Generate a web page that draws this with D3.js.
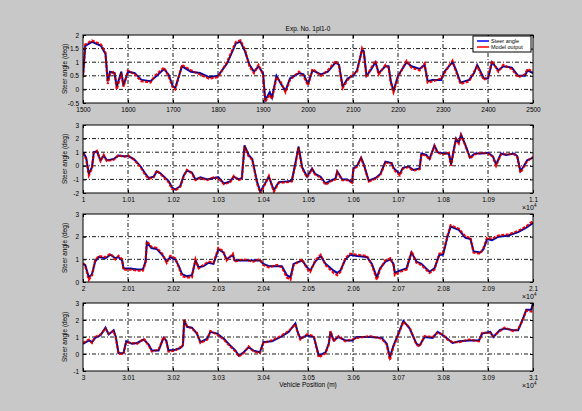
<!DOCTYPE html>
<html>
<head>
<meta charset="utf-8">
<script src="https://cdn.jsdelivr.net/npm/d3@7"></script>
<style>
  body { margin: 0; background: #c8c8c8; }
  svg { display: block; }
</style>
</head>
<body>
<svg id="drawing_region"></svg>
<script>
// ---- data (distance in m, angles in deg) ----
const dist1 = [1500,1505,1520,1540,1550,1555,1560,1570,1575,1585,1590,1600,1615,1630,1650,1660,1680,1690,1700,1705,1720,1740,1760,1780,1800,1820,1840,1850,1860,1870,1880,1890,1900,1905,1915,1920,1930,1940,1950,1960,1980,1990,2000,2010,2029,2044,2062,2069,2077,2088,2100,2109,2120,2124,2130,2139,2150,2157,2172,2179,2184,2190,2200,2219,2230,2248,2259,2266,2277,2296,2303,2321,2328,2339,2358,2369,2376,2391,2400,2409,2423,2434,2453,2467,2482,2488,2500];
const steer1 = [0.5,1.6,1.75,1.6,1.3,0.3,0.65,0.6,0.1,0.65,0.15,0.65,0.6,0.35,0.3,0.45,0.75,0.55,0.1,0.05,0.85,0.65,0.6,0.45,0.5,0.95,1.7,1.75,1.4,0.9,0.65,0.85,0.6,-0.4,-0.1,-0.3,0.5,0.2,-0.05,0.4,0.6,0.55,0.2,0.7,0.55,0.65,1.0,0.9,0.1,0.4,0.5,0.7,1.45,1.4,0.5,0.7,1.0,0.6,0.85,0.85,0.3,-0.05,0.5,1.0,0.85,0.75,0.9,0.3,0.35,0.35,0.65,1.0,0.75,0.25,0.35,0.6,0.9,0.4,0.4,1.0,0.7,0.85,0.8,0.5,0.5,0.7,0.6];
const model1 = [0.45,1.65,1.8,1.65,1.35,0.2,0.6,0.65,0.0,0.6,0.1,0.7,0.55,0.3,0.25,0.5,0.8,0.5,0.05,0.0,0.9,0.7,0.55,0.4,0.45,1.0,1.75,1.8,1.45,0.85,0.6,0.9,0.55,-0.45,-0.2,-0.35,0.45,0.25,-0.1,0.35,0.65,0.5,0.15,0.75,0.5,0.7,1.05,0.85,0.05,0.35,0.55,0.65,1.5,1.35,0.45,0.75,1.05,0.55,0.9,0.8,0.25,-0.1,0.45,1.05,0.8,0.7,0.95,0.25,0.3,0.4,0.6,1.05,0.7,0.2,0.3,0.65,0.85,0.35,0.45,1.05,0.65,0.9,0.75,0.45,0.55,0.75,0.65];

const dist2 = [10000,10007,10013,10020,10024,10031,10039,10046,10053,10068,10079,10090,10101,10113,10127,10139,10146,10157,10164,10172,10183,10190,10198,10205,10216,10224,10231,10242,10250,10261,10276,10290,10301,10313,10327,10335,10346,10353,10359,10368,10376,10387,10394,10401,10413,10424,10435,10453,10464,10472,10479,10487,10498,10509,10516,10528,10539,10550,10561,10565,10576,10587,10598,10601,10609,10618,10624,10635,10650,10661,10672,10686,10691,10704,10711,10723,10734,10748,10752,10763,10770,10781,10788,10800,10813,10818,10824,10829,10835,10840,10849,10860,10871,10885,10900,10911,10918,10929,10940,10958,10965,10972,10980,10987,11000];
const steer2 = [1.0,0.6,-0.6,-0.1,1.0,1.05,0.4,0.75,0.4,0.5,0.75,0.7,0.7,0.5,0.0,-0.6,-0.9,-0.8,-0.4,-0.55,-0.9,-1.1,-1.6,-1.75,-1.5,-0.7,-0.35,-0.5,-1.0,-0.85,-1.0,-0.9,-0.85,-1.3,-1.15,-0.8,-1.0,-0.9,1.5,0.8,0.5,-1.2,-1.9,-1.5,-0.8,-1.8,-1.2,-1.15,-1.1,0.2,1.4,-0.1,-0.8,-0.2,-0.6,-0.8,-1.3,-1.1,-0.95,-0.4,-1.0,-1.0,-1.2,-0.2,0.0,0.6,0.1,-1.1,-0.9,-0.6,0.3,0.2,-0.2,-0.6,-0.15,-0.05,-0.3,-0.2,0.9,0.8,0.5,1.5,1.0,0.9,0.9,0.1,1.2,2.0,1.7,2.3,1.6,0.6,0.9,0.9,0.95,0.7,0.1,0.9,0.8,0.9,0.7,-0.4,0.0,0.4,0.6];
const model2 = [0.95,0.5,-0.7,-0.2,0.95,1.1,0.35,0.8,0.35,0.45,0.8,0.65,0.75,0.45,-0.05,-0.7,-0.95,-0.85,-0.35,-0.6,-0.95,-1.2,-1.7,-1.8,-1.55,-0.75,-0.3,-0.55,-1.05,-0.9,-1.05,-0.85,-0.9,-1.35,-1.2,-0.75,-1.05,-0.95,1.45,0.7,0.45,-1.3,-2.0,-1.6,-0.75,-1.9,-1.25,-1.2,-1.15,0.1,1.35,-0.2,-0.85,-0.25,-0.65,-0.85,-1.4,-1.15,-1.0,-0.45,-1.05,-1.05,-1.25,-0.25,-0.05,0.55,0.05,-1.15,-0.95,-0.65,0.25,0.15,-0.3,-0.7,-0.2,-0.1,-0.35,-0.25,0.85,0.75,0.45,1.45,0.95,0.85,0.95,0.0,1.15,1.95,1.65,2.25,1.55,0.55,0.85,0.95,0.9,0.65,0.0,0.85,0.85,0.85,0.65,-0.5,-0.05,0.35,0.65];

const dist3 = [20000,20005,20013,20020,20027,20035,20050,20061,20072,20079,20087,20090,20105,20120,20133,20139,20142,20152,20164,20176,20186,20194,20205,20213,20220,20231,20242,20250,20257,20268,20279,20290,20301,20312,20319,20333,20337,20356,20378,20393,20401,20413,20431,20442,20453,20461,20468,20487,20498,20505,20516,20528,20539,20557,20565,20572,20583,20594,20609,20631,20642,20653,20660,20672,20683,20690,20693,20704,20719,20730,20741,20752,20770,20781,20792,20800,20810,20817,20835,20850,20861,20868,20883,20890,20898,20909,20923,20945,20967,20985,21000];
const steer3 = [0.8,0.75,0.2,0.35,0.9,1.1,1.05,1.2,1.05,1.1,0.95,0.6,0.6,0.55,0.55,0.9,1.75,1.5,1.45,1.2,0.9,1.1,1.0,0.7,0.35,0.25,0.3,0.95,0.65,0.7,0.85,0.8,1.45,1.3,1.0,1.2,0.95,0.95,0.95,0.95,0.8,0.7,0.7,0.7,0.3,0.2,0.8,0.95,0.65,0.5,0.9,1.15,0.8,0.5,0.4,0.5,1.0,1.2,1.15,1.1,0.8,0.2,0.6,0.9,1.0,0.8,0.4,0.5,0.6,1.3,0.9,0.8,0.45,0.6,1.2,1.2,2.0,2.45,2.3,1.95,1.9,1.35,1.3,1.45,1.9,1.85,2.0,2.05,2.2,2.4,2.6];
const model3 = [0.85,0.7,0.1,0.3,0.95,1.15,1.1,1.25,1.0,1.15,1.0,0.55,0.55,0.5,0.5,0.85,1.8,1.55,1.5,1.25,0.85,1.15,1.05,0.65,0.25,0.2,0.2,1.0,0.6,0.75,0.9,0.85,1.5,1.35,0.95,1.25,0.9,1.0,0.9,1.0,0.75,0.65,0.75,0.65,0.2,0.1,0.75,1.0,0.6,0.45,0.95,1.2,0.75,0.4,0.3,0.45,1.05,1.25,1.2,1.15,0.75,0.1,0.55,0.95,1.05,0.75,0.3,0.45,0.55,1.35,0.85,0.75,0.4,0.55,1.25,1.25,2.05,2.5,2.35,2.0,1.95,1.3,1.25,1.5,1.95,1.9,2.05,2.1,2.25,2.45,2.7];

const dist4 = [30000,30013,30020,30027,30039,30050,30057,30068,30073,30079,30090,30096,30109,30120,30135,30146,30153,30168,30179,30185,30190,30205,30216,30222,30225,30231,30242,30253,30261,30276,30283,30298,30313,30327,30339,30346,30357,30368,30379,30393,30401,30420,30439,30457,30472,30477,30483,30498,30513,30524,30539,30546,30550,30557,30568,30583,30598,30609,30638,30664,30675,30682,30690,30701,30712,30726,30741,30748,30759,30777,30788,30800,30810,30821,30836,30858,30880,30887,30905,30912,30926,30937,30956,30967,30978,30985,30996,31000];
const steer4 = [0.6,0.8,0.7,0.95,1.1,1.55,1.15,1.4,1.0,0.05,0.05,0.75,0.6,0.65,0.85,0.55,0.2,0.2,0.95,0.8,0.2,0.25,0.35,0.5,2.0,1.6,1.55,1.2,0.7,0.9,1.3,1.2,0.9,0.5,0.2,-0.1,0.1,0.4,0.2,0.1,0.7,0.75,1.0,1.3,1.8,1.3,0.9,1.1,1.0,-0.1,0.1,0.6,1.3,0.8,1.0,0.8,0.8,1.0,1.0,0.95,0.6,-0.2,0.5,1.2,1.95,1.5,0.6,0.5,1.0,0.95,1.3,1.1,0.9,0.65,0.75,0.8,0.8,1.2,1.3,1.0,1.4,1.5,1.4,1.4,2.1,2.6,2.6,3.0];
const model4 = [0.65,0.85,0.65,1.0,1.15,1.5,1.2,1.35,0.95,0.0,0.0,0.7,0.65,0.6,0.9,0.5,0.15,0.25,1.0,0.75,0.15,0.2,0.4,0.45,2.05,1.65,1.5,1.25,0.65,0.85,1.35,1.15,0.85,0.45,0.15,-0.15,0.05,0.45,0.15,0.05,0.65,0.8,1.05,1.35,1.75,1.25,0.85,1.15,1.05,-0.2,0.05,0.55,1.35,0.75,1.05,0.75,0.85,0.95,1.05,0.9,0.55,-0.35,0.45,1.15,1.9,1.55,0.55,0.45,1.05,1.0,1.25,1.15,0.85,0.7,0.7,0.85,0.75,1.25,1.25,1.05,1.35,1.55,1.35,1.45,2.05,2.55,2.5,2.8];

// axis ranges and ticks
const xDomains = [[1500, 2500], [10000, 11000], [20000, 21000], [30000, 31000]];
const yDomains = [[-0.5, 2], [-2, 3], [0, 3], [-1, 3]];
const yTicks = [[-0.5, 0, 0.5, 1, 1.5, 2], [-2, -1, 0, 1, 2, 3], [0, 1, 2, 3], [-1, 0, 1, 2, 3]];
const xScaleDiv = [1, 1e4, 1e4, 1e4];

const titleText = "Exp. No. 1pl1-0";
const yLabel = "Steer angle (deg)";
const xLabel = "Vehicle Position (m)";
const legendNames = ["Steer angle", "Model output"];
const legendColors = ["#0000ff", "#ff0000"];

const panels = [
    { dist: dist1, steer: steer1, model: model1 },
    { dist: dist2, steer: steer2, model: model2 },
    { dist: dist3, steer: steer3, model: model3 },
    { dist: dist4, steer: steer4, model: model4 }
];

// ---- layout ----
const W = 582, H = 411;
const left = 83, right = 533;
const tops = [35, 125, 214, 303];
const ph = 68;
const font = "'Liberation Sans', Arial, sans-serif";

const svg = d3.select('#drawing_region')
    .attr('width', W)
    .attr('height', H);

svg.append('rect')
    .attr('width', W).attr('height', H)
    .attr('fill', '#c8c8c8');

panels.forEach((p, i) => {
    const g = svg.append('g')
        .attr('transform', `translate(${left}, ${tops[i]})`);
    const iw = right - left;

    const xscale = d3.scaleLinear().domain(xDomains[i]).range([0, iw]);
    const yscale = d3.scaleLinear().domain(yDomains[i]).range([ph, 0]);
    const xt = d3.range(11).map(k => xDomains[i][0] + k * (xDomains[i][1] - xDomains[i][0]) / 10);

    g.append('rect')
        .attr('width', iw).attr('height', ph)
        .attr('fill', '#fff');

    // dash-dot grid
    const grid = g.append('g')
        .attr('stroke', '#000')
        .attr('stroke-width', 0.9)
        .attr('stroke-dasharray', '4,2,1,2');
    grid.selectAll('.gx').data(xt.slice(1, -1)).enter()
        .append('line')
        .attr('x1', d => xscale(d)).attr('x2', d => xscale(d))
        .attr('y1', 0).attr('y2', ph);
    grid.selectAll('.gy').data(yTicks[i].slice(1, -1)).enter()
        .append('line')
        .attr('y1', d => yscale(d)).attr('y2', d => yscale(d))
        .attr('x1', 0).attr('x2', iw);

    const pts = p.dist.map((d, k) => ({ x: d, s: p.steer[k], m: p.model[k] }));

    const clip = 'clip' + i;
    g.append('clipPath').attr('id', clip)
        .append('rect').attr('width', iw).attr('height', ph);

    const lines = g.append('g').attr('clip-path', `url(#${clip})`);
    const lineS = d3.line().x(d => xscale(d.x)).y(d => yscale(d.s));
    const lineM = d3.line().defined(d => d.m !== undefined).x(d => xscale(d.x)).y(d => yscale(d.m));

    lines.append('path')
        .attr('d', lineS(pts))
        .attr('fill', 'none')
        .attr('stroke', legendColors[0])
        .attr('stroke-width', 2);
    lines.append('path')
        .attr('d', lineM(pts))
        .attr('fill', 'none')
        .attr('stroke', legendColors[1])
        .attr('stroke-width', 2.2)
        .attr('stroke-dasharray', '3,1.5');
    lines.append('path')
        .attr('d', lineS(pts))
        .attr('fill', 'none')
        .attr('stroke', '#111')
        .attr('stroke-width', 0.7);

    // axes with inward ticks
    const fmtX = d => String(+(d / xScaleDiv[i]).toFixed(4));
    const fmtY = d => String(d);
    const xaxis = d3.axisBottom(xscale).tickValues(xt).tickSizeInner(-3).tickSizeOuter(0).tickPadding(4).tickFormat(fmtX);
    const yaxis = d3.axisLeft(yscale).tickValues(yTicks[i]).tickSizeInner(-3).tickSizeOuter(0).tickPadding(4).tickFormat(fmtY);
    const xtop = d3.axisTop(xscale).tickValues(xt).tickSizeInner(-3).tickSizeOuter(0).tickFormat('');
    const yright = d3.axisRight(yscale).tickValues(yTicks[i]).tickSizeInner(-3).tickSizeOuter(0).tickFormat('');

    [
        g.append('g').attr('transform', `translate(0, ${ph})`).call(xaxis),
        g.append('g').call(yaxis),
        g.append('g').call(xtop),
        g.append('g').attr('transform', `translate(${iw}, 0)`).call(yright)
    ].forEach(a => {
        a.select('.domain').remove();
        a.selectAll('line').attr('stroke', '#000');
        a.selectAll('text')
            .attr('fill', '#000')
            .style('font-family', font)
            .style('font-size', '6.5px');
    });

    g.append('rect')
        .attr('width', iw).attr('height', ph)
        .attr('fill', 'none')
        .attr('stroke', '#000')
        .attr('stroke-width', 1);

    // y label
    g.append('text')
        .attr('transform', `translate(-16, ${ph / 2}) rotate(-90)`)
        .attr('text-anchor', 'middle')
        .style('font-family', font)
        .style('font-size', '6.5px')
        .text(yLabel);

    // exponent marker
    if (xScaleDiv[i] !== 1) {
        const ex = g.append('text')
            .attr('x', iw - 11).attr('y', ph + 17)
            .style('font-family', font)
            .style('font-size', '7px')
            .text('\u00d710');
        ex.append('tspan')
            .attr('dy', -3)
            .style('font-size', '4.5px')
            .text('4');
    }
});

// title
svg.append('text')
    .attr('x', (left + right) / 2).attr('y', 31)
    .attr('text-anchor', 'middle')
    .style('font-family', font)
    .style('font-size', '6.5px')
    .text(titleText);

// x label
svg.append('text')
    .attr('x', (left + right) / 2).attr('y', 387)
    .attr('text-anchor', 'middle')
    .style('font-family', font)
    .style('font-size', '6.5px')
    .text(xLabel);

// legend
const lg = svg.append('g').attr('transform', 'translate(473, 36)');
lg.append('rect')
    .attr('width', 58).attr('height', 16)
    .attr('fill', '#fff')
    .attr('stroke', '#000');
legendNames.forEach((n, k) => {
    lg.append('line')
        .attr('x1', 4).attr('x2', 16)
        .attr('y1', 5 + k * 6).attr('y2', 5 + k * 6)
        .attr('stroke', legendColors[k])
        .attr('stroke-width', 1.5);
    lg.append('text')
        .attr('x', 18).attr('y', 7 + k * 6)
        .style('font-family', font)
        .style('font-size', '5.5px')
        .text(n);
});
</script>
</body>
</html>
